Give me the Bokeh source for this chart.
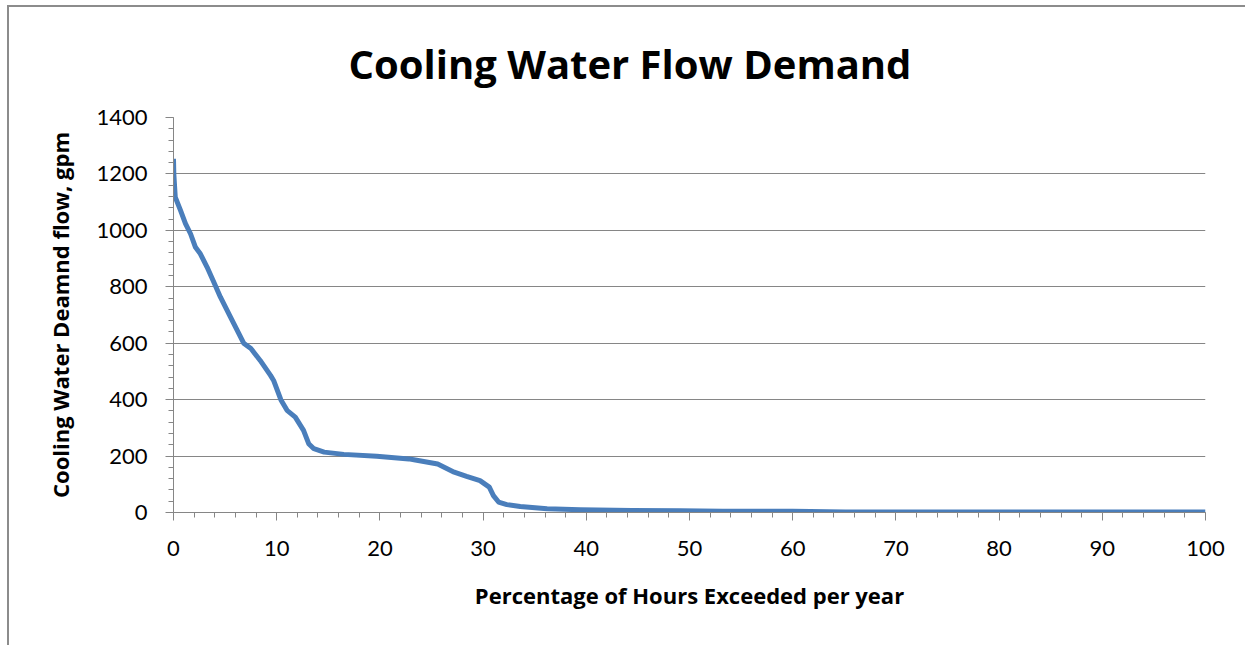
from bokeh.plotting import figure
from bokeh.models import Range1d, FixedTicker, Title, ColumnDataSource
from bokeh.embed import file_html
from bokeh.resources import INLINE

# Data
pct_hours = [0.0, 0.03, 0.17, 0.68, 1.16, 1.65, 2.13, 2.6, 3.25, 3.9, 4.55, 5.5, 6.8,
             7.5, 8.4, 9.4, 9.7, 10.4, 11.0, 11.8, 12.6, 13.1, 13.6, 14.6, 16.5,
             19.7, 22.8, 23.3, 25.6, 27.2, 28.4, 29.7, 30.6, 31.0, 31.5, 32.3,
             33.6, 36.2, 39.4, 44.4, 49.1, 53.2, 60.0, 65.1, 70.0, 80.0, 90.0, 100.0]
flow_gpm = [1254, 1200, 1118, 1071, 1024, 988, 940, 917, 870, 817, 763, 694, 600,
            581, 539, 486, 468, 400, 362, 338, 291, 244, 226, 214, 206,
            199, 190, 187, 172, 143, 128, 113, 90, 60, 37, 28,
            21, 13, 10, 7, 6, 4, 4, 2, 1.5, 1.5, 1.5, 1.5]

title_text = "Cooling Water Flow Demand"
x_label = "Percentage of Hours Exceeded per year"
y_label = "Cooling Water Deamnd flow, gpm"
x_ticks = list(range(0, 101, 10))
y_ticks = list(range(0, 1401, 200))

GRAY = "#868686"
BLUE = "#4A7EBB"
TICK_FONT = "Lato"
LABEL_FONT = "Open Sans"

p = figure(width=1238, height=640, output_backend="svg", toolbar_location=None,
           x_range=Range1d(0, 100), y_range=Range1d(0, 1400),
           min_border_left=164, min_border_right=42, min_border_top=110,
           min_border_bottom=135)
p.margin = (5, 0, 0, 7)
p.outline_line_color = None
p.background_fill_color = "white"
p.border_fill_color = "white"
p.styles = {"border-top": "2px solid #8c8c8c", "border-left": "2px solid #8c8c8c"}

src = ColumnDataSource(dict(x=pct_hours, y=flow_gpm))
p.line("x", "y", source=src, line_color=BLUE, line_width=5, line_join="round")

# axes
p.xaxis.ticker = FixedTicker(ticks=x_ticks, minor_ticks=list(range(0, 101, 2)))
p.yaxis.ticker = FixedTicker(ticks=y_ticks, minor_ticks=list(range(0, 1401, 40)))
for ax in (p.xaxis, p.yaxis):
    ax.axis_line_color = GRAY
    ax.axis_line_width = 1
    ax.major_tick_line_color = GRAY
    ax.minor_tick_line_color = GRAY
    ax.major_tick_in = 0
    ax.major_tick_out = 8
    ax.minor_tick_in = 0
    ax.minor_tick_out = 5
    ax.major_label_text_font = TICK_FONT
    ax.major_label_text_font_size = "22px"
    ax.major_label_text_color = "black"
    ax.axis_label_text_font = LABEL_FONT
    ax.axis_label_text_font_style = "bold"
    ax.axis_label_text_font_size = "22px"
    ax.axis_label_text_color = "black"
p.xaxis.axis_label = x_label
p.yaxis.axis_label = y_label
p.xaxis.major_label_standoff = 20
p.yaxis.major_label_standoff = 18
p.xaxis.axis_label_standoff = 21
p.yaxis.axis_label_standoff = 18

p.xgrid.grid_line_color = None
p.ygrid.grid_line_color = GRAY
p.ygrid.grid_line_width = 1
p.ygrid.ticker = FixedTicker(ticks=y_ticks)

# title
t = Title(text=title_text, align="left", offset=175, text_font=LABEL_FONT,
          text_font_style="bold", text_font_size="40px", text_color="black")
if "standoff" in Title.properties():
    t.standoff = 53
p.add_layout(t, "above")

open("out.html", "w").write(file_html(p, INLINE))
